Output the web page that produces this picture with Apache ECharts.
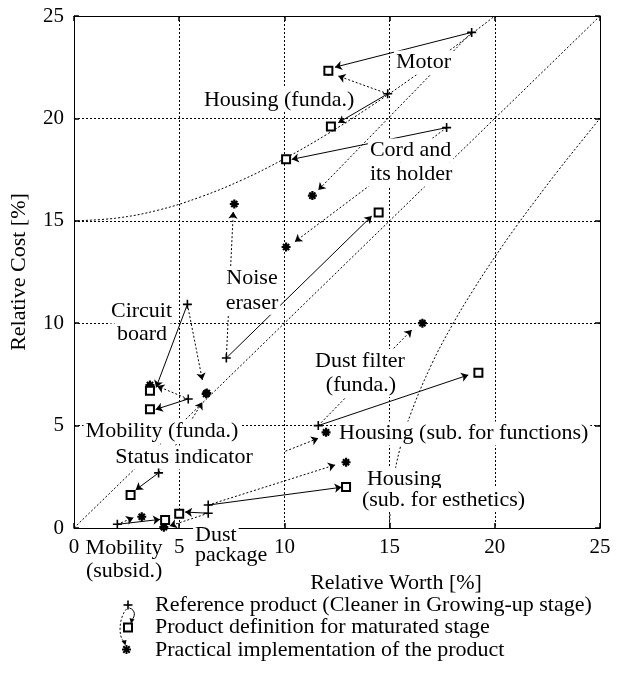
<!DOCTYPE html>
<html><head><meta charset="utf-8">
<script src="https://cdn.jsdelivr.net/npm/echarts@6/dist/echarts.min.js"></script>
<style>html,body{margin:0;padding:0;background:#fff}#c{width:622px;height:682px}</style>
</head><body><div id="c"></div>
<script>
// ---- data ----
const components = ['Motor','Housing (funda.)','Cord and its holder','Noise eraser','Circuit board','Mobility (funda.)','Status indicator','Mobility (subsid.)','Dust package','Housing (sub. for esthetics)','Dust filter (funda.)','Housing (sub. for functions)'];
// Reference product (worth, cost)
const referenceProduct = [[18.9,24.2],[14.91,21.2],[17.71,19.55],[7.24,8.30],[5.39,10.92],[5.43,6.30],[4.02,2.69],[2.06,0.18],[6.38,0.72],[6.38,1.12],[11.61,5.00]];
// Product definition for matured stage
const maturedDefinition = [[12.09,22.33],[12.21,19.60],[10.08,18.00],[14.48,15.41],[3.61,6.70],[3.61,5.80],[2.69,1.61],[4.33,0.39],[5.00,0.70],[12.93,2.00],[19.22,7.58]];
// Practical implementation
const practicalImplementation = [[11.33,16.23],[12.09,22.30],[10.08,13.72],[7.62,15.82],[6.31,6.59],[3.61,6.98],[6.28,6.55],[3.22,0.55],[4.27,0.04],[12.93,3.21],[16.56,10.00],[11.98,4.67]];
// arrow tips (where each arrowhead ends)
const definitionArrowTips = [[12.40,22.50],[12.56,19.79],[10.35,18.00],[14.15,15.23],[3.90,6.86],[3.88,5.79],[2.93,1.86],[4.09,0.42],[5.28,0.78],[12.72,1.99],[18.74,7.47]];
const implementationArrowFrom = [[18.9,24.2],[14.91,21.2],[17.71,19.55],[7.24,8.30],[5.39,10.92],[5.43,6.30],[4.02,2.69],[2.06,0.18],[6.38,0.72],[6.38,1.12],[11.61,5.00],[10.05,3.75]];
const implementationArrowTips = [[11.61,16.50],[12.56,22.07],[10.50,13.98],[7.57,15.44],[6.10,7.23],[3.95,6.93],[6.10,6.14],[2.82,0.50],[4.55,0.10],[12.41,3.08],[16.05,9.67],[11.61,4.38]];
// guide curves
const upperBoundary = [[0,15],[2,15.13],[4,15.52],[6,16.16],[8,17.0],[10,18.03],[12,19.21],[14,20.52],[16,21.93],[18,23.43],[20,25]];
const lowerBoundary = [[15,0],[15.05,1.2],[15.2,2.45],[15.5,3.9],[16,5.57],[17,8.0],[18,9.95],[19,11.66],[20,13.23],[21,14.7],[22,16.09],[23,17.44],[24,18.73],[25,20]];
const equalLine = [[0,0],[25,25]];
const axisTicks = [0,5,10,15,20,25];
// annotation texts and their anchor points (data units)
const annotationTexts = ['Motor','Housing (funda.)','Cord and','its holder','Noise','eraser','Circuit','board','Mobility (funda.)','Status indicator','Mobility','(subsid.)','Dust','package','Dust filter','(funda.)','Housing (sub. for functions)','Housing','(sub. for esthetics)'];
const annotationAnchors = [[15.21,22.73],[6.08,20.9],[13.97,18.43],[13.97,17.26],[8.46,12.18],[8.46,11.0],[3.21,10.57],[3.23,9.47],[4.18,4.71],[5.23,3.44],[2.38,-1.0],[2.38,-2.1],[5.66,-0.37],[5.66,-1.31],[13.59,8.15],[13.64,6.98],[12.5,4.61],[13.83,2.36],[13.59,1.37]];
const annotationAlign = ['left','left','left','left','center','center','center','center','center','center','center','center','left','left','center','center','left','left','left'];
const legendTexts = ['Reference product (Cleaner in Growing-up stage)','Product definition for maturated stage','Practical implementation of the product'];

// ---- chart ----
const FONT = 'Liberation Serif';
const PLUS = 'path://M5,0L5,10M0,5L10,5';
const STAR = 'path://M5,0L5,10M0,5L10,5M1.6,1.6L8.4,8.4M8.4,1.6L1.6,8.4';
const chart = echarts.init(document.getElementById('c'));

const baseAxis = {
  min: axisTicks[0], max: axisTicks[axisTicks.length-1], interval: axisTicks[1]-axisTicks[0],
  axisLine: {show: true, onZero: false, lineStyle: {color: '#000', width: 1}},
  axisTick: {show: true, inside: true, length: 5, lineStyle: {color: '#000', width: 1.5}},
  splitLine: {show: false}
};

// legend decoration (graphic)
const lx = 128, rows = [605, 627.5, 650.5];
const g = [];
const stroke = {stroke: '#000', lineWidth: 1.6};
g.push({type:'line', shape:{x1:lx-4.5,y1:rows[0],x2:lx+4.5,y2:rows[0]}, style:stroke});
g.push({type:'line', shape:{x1:lx,y1:rows[0]-4.5,x2:lx,y2:rows[0]+4.5}, style:stroke});
g.push({type:'rect', shape:{x:lx-4,y:rows[1]-4,width:8,height:8}, style:{fill:'#fff',stroke:'#000',lineWidth:2}});
const sx = lx-1.5, sy = rows[2]-1;
[[0,-4.5,0,4.5],[-4.5,0,4.5,0],[-3.2,-3.2,3.2,3.2],[3.2,-3.2,-3.2,3.2]].forEach(d=>{
  g.push({type:'line', shape:{x1:sx+d[0],y1:sy+d[1],x2:sx+d[2],y2:sy+d[3]}, style:{stroke:'#000',lineWidth:2}});
});
g.push({type:'bezierCurve', shape:{x1:129.5,y1:608,cpx1:136,cpy1:610,cpx2:135,cpy2:617,x2:132,y2:619.5}, style:{stroke:'#000',lineWidth:1,fill:null}});
g.push({type:'polygon', shape:{points:[[129.5,618],[134.5,619.5],[131,623.5]]}, style:{fill:'#000'}});
g.push({type:'bezierCurve', shape:{x1:126.5,y1:609,cpx1:118.5,cpy1:618,cpx2:118.5,cpy2:637,x2:123.5,y2:641}, style:{stroke:'#000',lineWidth:1,lineDash:[2,2],fill:null}});
g.push({type:'polygon', shape:{points:[[121.5,641],[126.5,640],[125.5,645.5]]}, style:{fill:'#000'}});
legendTexts.forEach((t,i)=>{
  g.push({type:'text', x:155, y:rows[i], style:{text:t, fontSize:22, fontFamily:FONT, fill:'#000', verticalAlign:'middle', align:'left'}});
});

const option = {
  backgroundColor: '#fff',
  animation: false,
  grid: {left: 74, top: 16, right: 22, bottom: 154, containLabel: false},
  xAxis: [
    Object.assign({}, baseAxis, {
      type: 'value', position: 'bottom',
      axisLabel: {show: true, color: '#000', fontSize: 21, fontFamily: FONT, margin: 9},
      splitLine: {show: true, lineStyle: {color: '#000', width: 1, type: [2,2]}},
      name: 'Relative Worth [%]', nameLocation: 'middle', nameGap: 44,
      nameTextStyle: {color: '#000', fontSize: 22, fontFamily: FONT, padding: [0,0,0,118]}
    }),
    Object.assign({}, baseAxis, {type: 'value', position: 'top', axisLabel: {show: false}})
  ],
  yAxis: [
    Object.assign({}, baseAxis, {
      type: 'value', position: 'left',
      axisLabel: {show: true, color: '#000', fontSize: 21, fontFamily: FONT, margin: 10},
      splitLine: {show: true, lineStyle: {color: '#000', width: 1, type: [2,2]}},
      name: 'Relative Cost [%]', nameLocation: 'middle', nameGap: 44,
      nameTextStyle: {color: '#000', fontSize: 22, fontFamily: FONT}
    }),
    Object.assign({}, baseAxis, {type: 'value', position: 'right', axisLabel: {show: false}})
  ],
  graphic: {elements: g},
  series: [
    {type:'line', name:'upper', data: upperBoundary, smooth: 0.4, symbol:'none', z:1, silent:true,
     lineStyle:{color:'#000', width:1, type:[2,2]}},
    {type:'line', name:'lower', data: lowerBoundary, smooth: 0.4, symbol:'none', z:1, silent:true,
     lineStyle:{color:'#000', width:1, type:[2,2]}},
    {type:'line', name:'equal', data: equalLine, symbol:'none', z:1, silent:true,
     lineStyle:{color:'#000', width:1, type:[2,2]}},
    {type:'lines', coordinateSystem:'cartesian2d', z:2, silent:true,
     symbol:['none','arrow'], symbolSize:7,
     lineStyle:{color:'#000', width:1, type:'solid', opacity:1},
     data: referenceProduct.map((p,i)=>({coords:[p, definitionArrowTips[i]]}))},
    {type:'lines', coordinateSystem:'cartesian2d', z:2, silent:true,
     symbol:['none','arrow'], symbolSize:7,
     lineStyle:{color:'#000', width:1, type:[2,2], opacity:1},
     data: implementationArrowFrom.map((p,i)=>({coords:[p, implementationArrowTips[i]]}))},
    {type:'scatter', name:'Practical implementation of the product', z:5, clip:false, silent:true,
     symbol: STAR, symbolSize: 9,
     itemStyle:{color:'rgba(0,0,0,0)', borderColor:'#000', borderWidth:2.2, opacity:1},
     data: practicalImplementation},
    {type:'scatter', name:'Product definition for maturated stage', z:6, clip:false, silent:true,
     symbol: 'rect', symbolSize: 8,
     itemStyle:{color:'#fff', borderColor:'#000', borderWidth:2, opacity:1},
     data: maturedDefinition},
    {type:'scatter', name:'Reference product', z:6, clip:false, silent:true,
     symbol: PLUS, symbolSize: 9,
     itemStyle:{color:'rgba(0,0,0,0)', borderColor:'#000', borderWidth:1.6, opacity:1},
     data: referenceProduct}
  ]
};
chart.setOption(option);

// annotations: placed through the chart's own scales
const ann = annotationTexts.map((t, i) => {
  const p = chart.convertToPixel({xAxisIndex: 0, yAxisIndex: 0}, annotationAnchors[i]);
  return {type:'text', x: p[0], y: p[1], z: 3, silent: true,
    style:{text: t, fontSize: 22, fontFamily: FONT, fill: '#000',
           align: annotationAlign[i], verticalAlign: 'middle',
           backgroundColor: '#fff', padding: [1, 2]}};
});
chart.setOption({graphic: {elements: g.concat(ann)}});
</script>
</body></html>
